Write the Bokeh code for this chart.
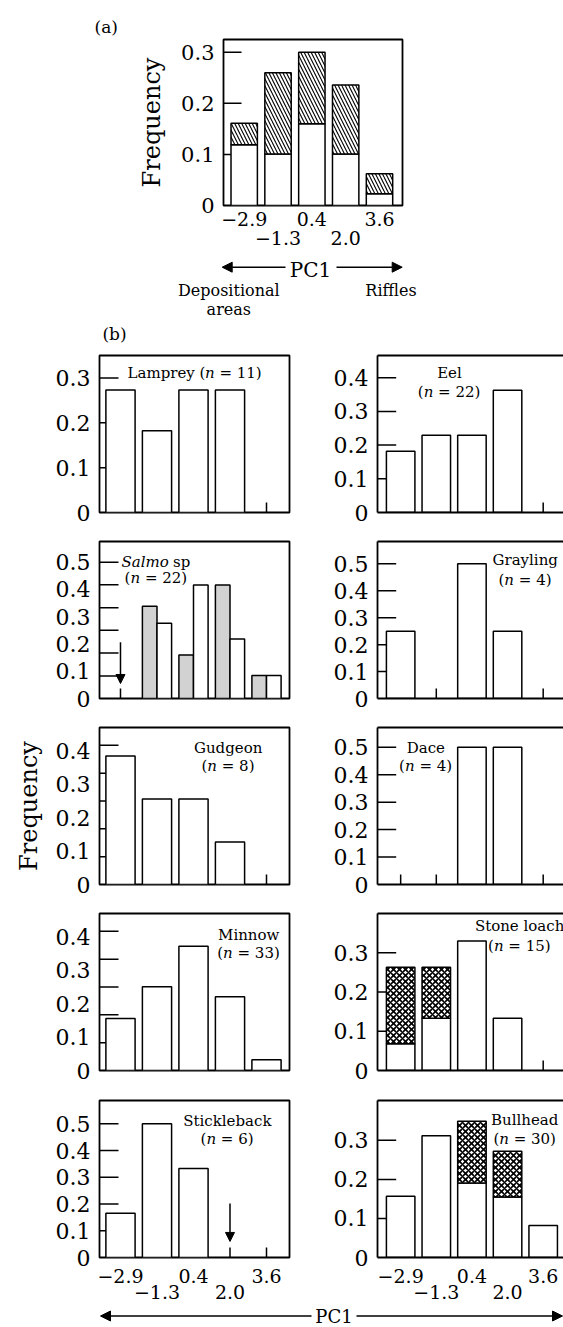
from bokeh.plotting import figure
from bokeh.layouts import column, row
from bokeh.models import (Range1d, FixedTicker, LinearAxis, Arrow, NormalHead,
                          CustomJSTickFormatter, ColumnDataSource)
from bokeh.core.properties import value
from bokeh.embed import file_html
from bokeh.resources import INLINE

FONT = "DejaVu Serif"
LW = 1.5
OUT = 1.8
GREY = "#d2d2d2"
PAGE_W = 563

# ---------------- data ----------------
positions = [1, 2, 3, 4, 5]
pc1_labels = ["\u22122.9", "\u22121.3", "0.4", "2.0", "3.6"]

# (a) all species: open part and total (hatched part on top)
all_open = [0.119, 0.101, 0.160, 0.101, 0.023]
all_total = [0.161, 0.260, 0.300, 0.236, 0.062]

lamprey = [0.273, 0.182, 0.273, 0.273, 0.0]
eel = [0.182, 0.229, 0.229, 0.363, 0.0]
salmo_grey = [0.0, 0.338, 0.160, 0.416, 0.084]
salmo_white = [0.0, 0.276, 0.416, 0.218, 0.084]
grayling = [0.25, 0.0, 0.5, 0.25, 0.0]
gudgeon = [0.385, 0.256, 0.256, 0.127, 0.0]
dace = [0.0, 0.0, 0.5, 0.5, 0.0]
minnow = [0.156, 0.251, 0.372, 0.221, 0.032]
stone_loach_open = [0.068, 0.133, 0.330, 0.133, 0.0]
stone_loach_total = [0.263, 0.263, 0.330, 0.133, 0.0]
stickleback = [0.165, 0.500, 0.333, 0.0, 0.0]
bullhead_open = [0.157, 0.312, 0.191, 0.155, 0.082]
bullhead_total = [0.157, 0.312, 0.349, 0.272, 0.082]

# arrows (position, start, end)
salmo_arrow = [1, 0.206, 0.055]
stickleback_arrow = [4, 0.202, 0.060]

# y tick labels / tick marks
yl_a = [0, 0.1, 0.2, 0.3]
yl_03 = [0, 0.1, 0.2, 0.3]
yl_04 = [0, 0.1, 0.2, 0.3, 0.4]
yl_05 = [0, 0.1, 0.2, 0.3, 0.4, 0.5]
ym_twelfths5 = [0.083, 0.167, 0.25, 0.333, 0.417]
ym_twelfths6 = [0.083, 0.167, 0.25, 0.333, 0.417, 0.5]

XA = (0.388, 5.68)
XL = (0.425, 5.63)
XR = (0.35, 5.57)

YFMT = CustomJSTickFormatter(code="return tick == 0 ? '0' : tick.toFixed(1);")

CW = {" ": 0.318, "\u00a0": 0.318, "(": 0.390, ")": 0.390, "=": 0.838,
      "a": 0.596, "b": 0.640, "c": 0.560, "d": 0.640, "e": 0.592, "f": 0.370,
      "g": 0.640, "h": 0.644, "i": 0.320, "k": 0.609, "l": 0.320, "m": 0.948,
      "n": 0.644, "o": 0.602, "p": 0.640, "r": 0.478, "s": 0.513, "t": 0.402,
      "u": 0.644, "w": 0.856, "y": 0.565, "D": 0.770, "E": 0.683, "G": 0.775,
      "L": 0.637, "M": 0.995, "S": 0.645, "B": 0.733}


def text_width(s, size):
    return sum(0.636 if c.isdigit() else CW.get(c, 0.6) for c in s) * size


def rich_text(p, x, y, parts, size=15):
    widths = [text_width(t, size) for t, _ in parts]
    off = -sum(widths) / 2
    for (t, style), w in zip(parts, widths):
        p.text(x=[x], y=[y], text=[t], x_offset=off, text_align="left",
               text_baseline="middle", text_font=value(FONT),
               text_font_size=f"{size}px", text_font_style=style, text_color="black")
        off += w


def n_parts(prefix, n):
    parts = []
    if prefix:
        parts.append((prefix + "\u00a0(", "normal"))
    else:
        parts.append(("(", "normal"))
    parts.append(("n", "italic"))
    parts.append(("\u00a0=\u00a0" + str(n) + ")", "normal"))
    return parts


def make_fig(w, h, bl, br, bt, bb, xr, yr, outline=True):
    p = figure(width=w, height=h, x_range=Range1d(*xr), y_range=Range1d(*yr),
               x_axis_location=None, y_axis_location=None,
               output_backend="svg", toolbar_location=None)
    p.min_border_left = bl
    p.min_border_right = br
    p.min_border_top = bt
    p.min_border_bottom = bb
    p.grid.visible = False
    p.outline_line_color = "black" if outline else None
    p.outline_line_width = OUT
    p.border_fill_color = "white"
    p.background_fill_color = "white"
    return p


def y_axis(p, labels, size, line, label=None, label_standoff=10):
    ax = LinearAxis(ticker=FixedTicker(ticks=labels), formatter=YFMT,
                    major_tick_in=0, major_tick_out=0, minor_tick_in=0, minor_tick_out=0,
                    major_label_standoff=9, major_label_text_font=FONT,
                    major_label_text_font_size=size, major_label_text_color="black",
                    axis_line_color="black" if line else None, axis_line_width=OUT)
    if label:
        ax.axis_label = label
        ax.axis_label_text_font = FONT
        ax.axis_label_text_font_size = "24px"
        ax.axis_label_text_font_style = "normal"
        ax.axis_label_text_color = "black"
        ax.axis_label_standoff = label_standoff
    p.add_layout(ax, "left")


def line_axis(p, side):
    ax = LinearAxis(ticker=FixedTicker(ticks=[]), major_tick_in=0, major_tick_out=0,
                    minor_tick_in=0, minor_tick_out=0, major_label_standoff=0,
                    axis_line_color="black", axis_line_width=OUT)
    p.add_layout(ax, side)


def x_label_axes(p, size, s1, s2, line):
    first = [0, 2, 4]
    second = [1, 3]
    for idx, st, ln in ((first, s1, line), (second, s2, False)):
        ax = LinearAxis(ticker=FixedTicker(ticks=[positions[i] for i in idx]),
                        major_label_overrides={positions[i]: pc1_labels[i] for i in idx},
                        major_tick_in=0, major_tick_out=0, minor_tick_in=0, minor_tick_out=0,
                        major_label_standoff=st, major_label_text_font=FONT,
                        major_label_text_font_size=size, major_label_text_color="black",
                        axis_line_color="black" if ln else None, axis_line_width=OUT)
        p.add_layout(ax, "below")


def tick_marks(p, xr, yr, fw, fh, ymarks, ylen, xlen):
    ppx = fw / (xr[1] - xr[0])
    ppy = fh / (yr[1] - yr[0])
    n = len(ymarks)
    p.segment(x0=[xr[0]] * n, y0=ymarks, x1=[xr[0] + ylen / ppx] * n, y1=ymarks,
              line_color="black", line_width=LW, level="underlay")
    m = len(positions)
    p.segment(x0=positions, y0=[0] * m, x1=positions, y1=[xlen / ppy] * m,
              line_color="black", line_width=LW, level="underlay")


def bars(p, xs, tops, width, bottoms=None, **kw):
    if bottoms is None:
        bottoms = [0.0] * len(tops)
    keep = [i for i in range(len(tops)) if tops[i] - bottoms[i] > 0]
    src = ColumnDataSource(dict(x=[xs[i] for i in keep], top=[tops[i] for i in keep],
                                bottom=[bottoms[i] for i in keep]))
    style = dict(fill_color="white", line_color="black", line_width=LW)
    style.update(kw)
    p.vbar(x="x", top="top", bottom="bottom", width=width, source=src, **style)


def strip(h):
    p = figure(width=PAGE_W, height=h, x_range=Range1d(0, PAGE_W), y_range=Range1d(h, 0),
               x_axis_location=None, y_axis_location=None,
               output_backend="svg", toolbar_location=None)
    p.min_border_left = 0
    p.min_border_right = 0
    p.min_border_top = 0
    p.min_border_bottom = 0
    p.grid.visible = False
    p.outline_line_color = None
    return p


def stext(p, x, y, t, size, align="center"):
    p.text(x=[x], y=[y], text=[t], text_align=align, text_baseline="middle",
           text_font=value(FONT), text_font_size=f"{size}px", text_color="black")


def sarrow(p, x0, x1, y):
    p.add_layout(Arrow(x_start=x0, y_start=y, x_end=x1, y_end=y, line_width=1.5,
                       line_color="black",
                       end=NormalHead(size=10, fill_color="black", line_color="black",
                                      line_width=1)))


# ---------------- strip above (a) ----------------
s0 = strip(37)
stext(s0, 105.7, 26.7, "(a)", 17)

# ---------------- panel (a) ----------------
YA = (0, 0.325)
fa = make_fig(PAGE_W, 221, 223, PAGE_W - 223 - 179, 2, 53, XA, YA, outline=True)
tick_marks(fa, XA, YA, 179, 166, [0.1, 0.2, 0.3], 18, 10)
bars(fa, positions, all_open, 0.78)
bars(fa, positions, all_total, 0.78, bottoms=all_open, hatch_pattern="\\",
     hatch_color="black", hatch_scale=7, hatch_weight=1.1)
y_axis(fa, yl_a, "21px", False, label="Frequency", label_standoff=12)
x_label_axes(fa, "19px", 6, 2, False)

# ---------------- strip between (a) and (b) ----------------
sa = strip(88)
sarrow(sa, 285, 221.7, 8.7)
sarrow(sa, 336, 401.7, 8.7)
stext(sa, 310, 11, "PC1", 20)
stext(sa, 228.3, 32, "Depositional", 16)
stext(sa, 228.3, 51, "areas", 16)
stext(sa, 390.5, 32, "Riffles", 16)
stext(sa, 114, 75.3, "(b)", 17)


# ---------------- species panels ----------------
def species_panel(col, h, bt, bb, ymax, ylabels, ymarks, titles, draw,
                  last=False, ylab=None, arrow=None):
    if col == 0:
        xr, fw = XL, 190
        p = make_fig(330, h, 99, 41, bt, bb, xr, (0, ymax), outline=True)
    else:
        xr, fw = XR, 189
        p = make_fig(233, h, 44, 0, bt, bb, xr, (0, ymax), outline=False)
    yr = (0, ymax)
    tick_marks(p, xr, yr, fw, 157, ymarks, 19, 10)
    draw(p)
    if arrow is not None:
        p.add_layout(Arrow(x_start=arrow[0], y_start=arrow[1], x_end=arrow[0],
                           y_end=arrow[2], line_width=1.5, line_color="black",
                           end=NormalHead(size=9, fill_color="black", line_color="black",
                                          line_width=1)))
    x, ys, lines = titles
    for yy, parts in zip(ys, lines):
        rich_text(p, x, yy, parts, 15)
    y_axis(p, ylabels, "22px", col == 1, label=ylab, label_standoff=10)
    if col == 1:
        line_axis(p, "above")
    if last:
        x_label_axes(p, "19px", 11, -1, col == 1)
    elif col == 1:
        line_axis(p, "below")
    return p


def simple(vals):
    return lambda p: bars(p, positions, vals, 0.8)


def stacked(open_vals, total_vals):
    def d(p):
        bars(p, positions, open_vals, 0.8)
        bars(p, positions, total_vals, 0.8, bottoms=open_vals,
             hatch_pattern="x", hatch_color="black", hatch_scale=6, hatch_weight=1.6)
    return d


def salmo_draw(p):
    bars(p, [x - 0.2 for x in positions], salmo_grey, 0.4, fill_color=GREY)
    bars(p, [x + 0.2 for x in positions], salmo_white, 0.4)


H1, H, H5 = 182, 186, 217
T1, T, T5, B, B5 = 9, 13, 14, 16, 46

l1 = species_panel(0, H1, T1, B, 0.35, yl_03, [0.1, 0.2, 0.3],
                   (3.03, [0.31], [n_parts("Lamprey", 11)]), simple(lamprey))
r1 = species_panel(1, H1, T1, B, 0.466, yl_04, [0.1, 0.2, 0.3, 0.4],
                   (2.36, [0.414, 0.358], [[("Eel", "normal")], n_parts("", 22)]),
                   simple(eel))
l2 = species_panel(0, H, T, B, 0.576, yl_05, ym_twelfths6,
                   (1.97, [0.502, 0.442],
                    [[("Salmo", "italic"), ("\u00a0sp", "normal")], n_parts("", 22)]),
                   salmo_draw, arrow=salmo_arrow)
r2 = species_panel(1, H, T, B, 0.583, yl_05, [0.1, 0.2, 0.3, 0.4, 0.5],
                   (4.49, [0.515, 0.44], [[("Grayling", "normal")], n_parts("", 4)]),
                   simple(grayling))
l3 = species_panel(0, H, T, B, 0.47, yl_04, ym_twelfths5,
                   (3.945, [0.41, 0.355], [[("Gudgeon", "normal")], n_parts("", 8)]),
                   simple(gudgeon), ylab="Frequency")
r3 = species_panel(1, H, T, B, 0.572, yl_05, [0.1, 0.2, 0.3, 0.4, 0.5],
                   (1.70, [0.496, 0.433], [[("Dace", "normal")], n_parts("", 4)]),
                   simple(dace))
l4 = species_panel(0, H, T, B, 0.47, yl_04, ym_twelfths5,
                   (4.507, [0.405, 0.353], [[("Minnow", "normal")], n_parts("", 33)]),
                   simple(minnow))
r4 = species_panel(1, H, T, B, 0.40, yl_03, [0.1, 0.2, 0.3],
                   (4.33, [0.368, 0.317], [[("Stone\u00a0loach", "normal")], n_parts("", 15)]),
                   stacked(stone_loach_open, stone_loach_total))
l5 = species_panel(0, H5, T5, B5, 0.587, yl_05, [0.1, 0.2, 0.3, 0.4, 0.5],
                   (3.92, [0.512, 0.442], [[("Stickleback", "normal")], n_parts("", 6)]),
                   simple(stickleback), last=True, arrow=stickleback_arrow)
r5 = species_panel(1, H5, T5, B5, 0.402, yl_03, [0.1, 0.2, 0.3],
                   (4.48, [0.351, 0.303], [[("Bullhead", "normal")], n_parts("", 30)]),
                   stacked(bullhead_open, bullhead_total), last=True)

# ---------------- bottom strip ----------------
sb = strip(24)
sarrow(sb, 311, 100, 12.5)
sarrow(sb, 356, 562, 12.5)
stext(sb, 333.5, 12.5, "PC1", 18)

layout = column(row(s0), row(fa), row(sa), row(l1, r1), row(l2, r2), row(l3, r3),
                row(l4, r4), row(l5, r5), row(sb))

open("out.html", "w").write(file_html(layout, INLINE))
